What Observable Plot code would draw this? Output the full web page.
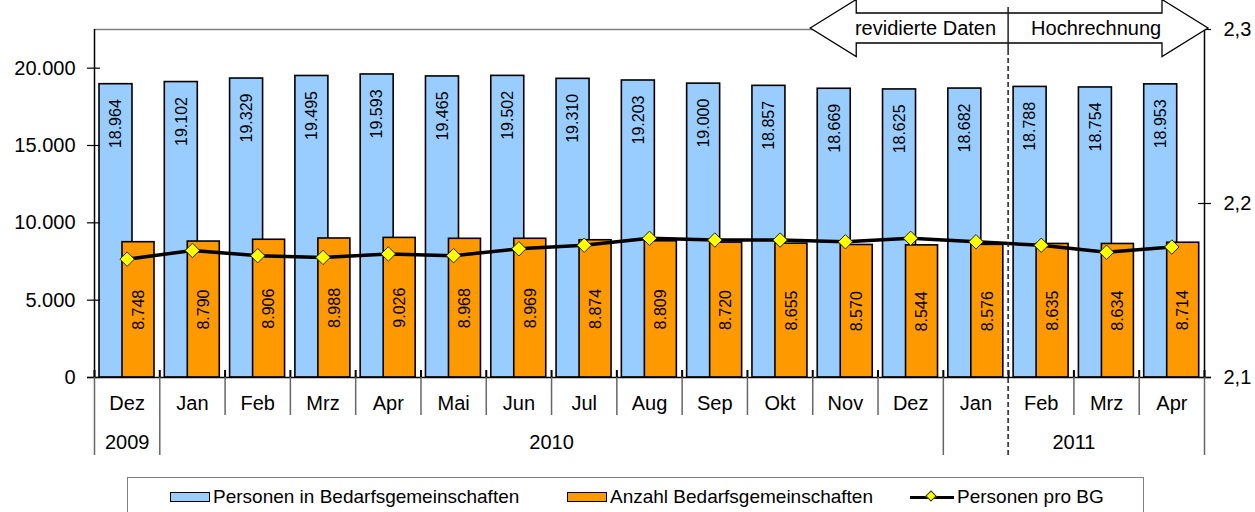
<!DOCTYPE html>
<html><head><meta charset="utf-8">
<script src="https://cdn.jsdelivr.net/npm/d3@7"></script>
<script src="https://cdn.jsdelivr.net/npm/@observablehq/plot@0.6"></script>
<style>
html,body{margin:0;padding:0;background:#fff;overflow:hidden;width:1255px;height:512px;}
#chart svg{display:block}
.legend{position:absolute;left:127px;top:477px;width:1017px;height:48px;border:1.5px solid #808080;box-sizing:border-box;font-family:"Liberation Sans",Arial,sans-serif;font-size:19px;color:#000;}
.item{position:absolute;top:0;height:38px;display:flex;align-items:center;white-space:nowrap;}
.sw{width:38px;height:8px;border:1.5px solid #000;margin-right:3px;}
.ln{position:relative;width:44px;height:3px;background:#000;margin-right:3px;}
.ln i{position:absolute;left:17px;top:-4px;width:8px;height:8px;background:#ff0;border:1px solid #333;transform:rotate(45deg);box-sizing:border-box;}
</style></head>
<body>
<div id="chart"></div>
<script>
const months = ["Dez","Jan","Feb","Mrz","Apr","Mai","Jun","Jul","Aug","Sep","Okt","Nov","Dez","Jan","Feb","Mrz","Apr"];
const monthYears = [2009,2010,2010,2010,2010,2010,2010,2010,2010,2010,2010,2010,2010,2011,2011,2011,2011];
const personen = [18964,19102,19329,19495,19593,19465,19502,19310,19203,19000,18857,18669,18625,18682,18788,18754,18953];
const anzahl = [8748,8790,8906,8988,9026,8968,8969,8874,8809,8720,8655,8570,8544,8576,8635,8634,8714];
const proBG = [2.168,2.173,2.170,2.169,2.171,2.170,2.174,2.176,2.180,2.179,2.179,2.178,2.180,2.178,2.176,2.172,2.175];
const leftTicks = [0,5000,10000,15000,20000];
const leftMax = 22500;
const rightTicks = [2.1,2.2,2.3];
const rightDomain = [2.1,2.3];
const arrowLabels = ["revidierte Daten","Hochrechnung"];
const arrowBounds = [11,14,17];
const seriesNames = ["Personen in Bedarfsgemeinschaften","Anzahl Bedarfsgemeinschaften","Personen pro BG"];
const colors = ["#99CCFF","#FF9900","#FFFF00"];

const de = d3.formatLocale({decimal:",", thousands:".", grouping:[3], currency:["","€"]});
const fmtInt = de.format(",d");
const fmtDec = de.format(".1f");
const toLeft = v => (v - rightDomain[0]) / (rightDomain[1] - rightDomain[0]) * leftMax;

const n = months.length;
const rows = months.map((m,i)=>({i, m, year:monthYears[i], p:personen[i], a:anzahl[i], r:proBG[i]}));
const yearGroups = d3.groups(rows, d=>d.year).map(([y, ds]) => ({year:String(y), start:ds[0].i, end:ds[ds.length-1].i+1}));
const yearBounds = [...new Set(yearGroups.flatMap(g=>[g.start,g.end]))];
const allBounds = d3.range(n+1);
const monthBounds = allBounds.filter(b => !yearBounds.includes(b) && b !== arrowBounds[1]);

const font = '"Liberation Sans", Arial, sans-serif';
const chart = Plot.plot({
  width: 1255, height: 470,
  marginLeft: 94, marginRight: 51, marginTop: 29, marginBottom: 93,
  style: {fontFamily: font, fontSize: "20px", background: "#fff", overflow: "visible", color: "#000"},
  x: {type: "linear", domain: [0, n], axis: null},
  y: {domain: [0, leftMax], axis: null},
  marks: [
    // frame top
    Plot.ruleY([leftMax], {x1: 0, x2: n, stroke: "#808080", strokeWidth: 1.5}),
    // blue bars
    Plot.rectY(rows, {x1: "i", x2: d => d.i + 1, y: "p", fill: colors[0], stroke: "#000", strokeWidth: 1.6, insetLeft: 5, insetRight: 27.3}),
    // orange bars
    Plot.rectY(rows, {x1: "i", x2: d => d.i + 1, y: "a", fill: colors[1], stroke: "#000", strokeWidth: 1.6, insetLeft: 28, insetRight: 5.3}),
    // labels
    Plot.text(rows, {x: d => d.i + 0.5, y: "p", text: d => fmtInt(d.p), rotate: -90, textAnchor: "end", lineAnchor: "middle", dx: -11, dy: 15, fontSize: 16, fill: "#000"}),
    Plot.text(rows, {x: d => d.i + 0.5, y: d => d.a / 2, text: d => fmtInt(d.a), rotate: -90, textAnchor: "middle", lineAnchor: "middle", dx: 11.5, fontSize: 16, fill: "#000"}),
    // line
    Plot.line(rows, {x: d => d.i + 0.5, y: d => toLeft(d.r), stroke: "#000", strokeWidth: 3.5}),
    Plot.dot(rows, {x: d => d.i + 0.5, y: d => toLeft(d.r), symbol: "diamond2", r: 6.5, fill: colors[2], stroke: "#222", strokeWidth: 1}),
    // axes lines
    Plot.ruleX([0], {y1: 0, y2: leftMax, stroke: "#000", strokeWidth: 1.5}),
    Plot.ruleX([n], {y1: 0, y2: leftMax, stroke: "#000", strokeWidth: 1.5}),
    Plot.ruleY([0], {x1: 0, x2: n, insetLeft: -7, insetRight: -7, stroke: "#000", strokeWidth: 1.5}),
    // left ticks + labels
    Plot.ruleY(leftTicks, {x1: 0, x2: 0, insetLeft: -7, insetRight: -6, stroke: "#000", strokeWidth: 1.2}),
    Plot.text(leftTicks, {y: d => d, frameAnchor: "left", text: d => fmtInt(d), textAnchor: "end", dx: -19, lineAnchor: "middle", fontSize: 20}),
    // right ticks + labels
    Plot.ruleY(rightTicks.map(toLeft), {x1: n, x2: n, insetLeft: -6, insetRight: -7, stroke: "#000", strokeWidth: 1.2}),
    Plot.text(rightTicks, {y: d => toLeft(d), frameAnchor: "right", text: d => fmtDec(d), textAnchor: "start", dx: 19, lineAnchor: "middle", fontSize: 20}),
    // boundary ticks above axis
    Plot.ruleX(allBounds, {y1: 0, y2: 0, insetTop: -7, insetBottom: 0, stroke: "#000", strokeWidth: 2}),
    // month separators
    Plot.ruleX(monthBounds, {y1: 0, y2: 0, insetTop: 0, insetBottom: -38, stroke: "#666", strokeWidth: 1.5}),
    Plot.ruleX(yearBounds, {y1: 0, y2: 0, insetTop: 0, insetBottom: -78, stroke: "#666", strokeWidth: 1.5}),
    // month and year labels
    Plot.text(rows, {x: d => d.i + 0.5, frameAnchor: "bottom", text: "m", dy: 26, lineAnchor: "middle", fontSize: 20}),
    Plot.text(yearGroups, {x: d => (d.start + d.end) / 2, frameAnchor: "bottom", text: "year", dy: 65, lineAnchor: "middle", fontSize: 20})
  ]
});
document.getElementById("chart").appendChild(chart);

// annotation arrows using the plot's x scale
const sx = chart.scale("x").apply;
const svg = d3.select(chart);
const g = svg.append("g");
const xl = sx(arrowBounds[0]), xm = sx(arrowBounds[1]), xr = sx(arrowBounds[2]) + 4;
const yc = 28, hh = 28.5, sh = 15, head = 46;
g.append("path")
  .attr("d", `M${xl-2},${yc} L${xl-2+head},${yc-hh} L${xl-2+head},${yc-sh} L${xr-head},${yc-sh} L${xr-head},${yc-hh} L${xr},${yc} L${xr-head},${yc+hh} L${xr-head},${yc+sh} L${xl-2+head},${yc+sh} L${xl-2+head},${yc+hh} Z`)
  .attr("fill", "#fff").attr("stroke", "#000").attr("stroke-width", 1.3);
g.append("line").attr("x1", xm).attr("x2", xm).attr("y1", 7).attr("y2", 50).attr("stroke", "#222").attr("stroke-width", 1.5);
g.append("line").attr("x1", xm).attr("x2", xm).attr("y1", 50).attr("y2", 455).attr("stroke", "#222").attr("stroke-width", 1.5).attr("stroke-dasharray", "5,3");
g.append("text").attr("x", xm - 12).attr("y", yc).attr("dy", "0.35em").attr("text-anchor", "end")
  .attr("font-family", font).attr("font-size", 20).text(arrowLabels[0]);
g.append("text").attr("x", xm + 23).attr("y", yc).attr("dy", "0.35em").attr("text-anchor", "start")
  .attr("font-family", font).attr("font-size", 20).text(arrowLabels[1]);

// legend
const leg = document.createElement("div");
leg.className = "legend";
const lefts = [42, 439, 782];
seriesNames.forEach((name, k) => {
  const it = document.createElement("div");
  it.className = "item";
  it.style.left = lefts[k] + "px";
  if (k < 2) {
    const s = document.createElement("span"); s.className = "sw"; s.style.background = colors[k]; it.appendChild(s);
  } else {
    const s = document.createElement("span"); s.className = "ln"; const d = document.createElement("i"); s.appendChild(d); it.appendChild(s);
  }
  const t = document.createElement("span"); t.textContent = name; it.appendChild(t);
  leg.appendChild(it);
});
document.body.appendChild(leg);
</script>
</body></html>
